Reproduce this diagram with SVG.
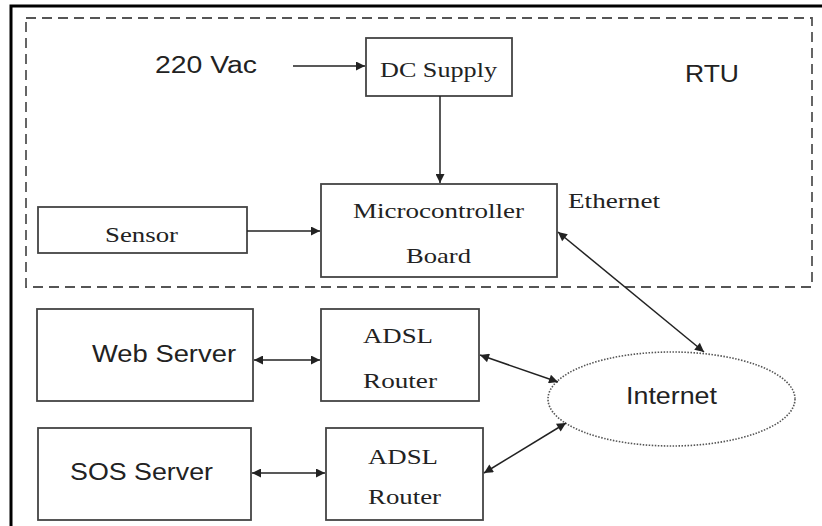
<svg xmlns="http://www.w3.org/2000/svg" width="822" height="526" viewBox="0 0 822 526">
<defs>
<marker id="ah" viewBox="0 0 10 10" refX="10" refY="5" markerWidth="12" markerHeight="9" markerUnits="userSpaceOnUse" orient="auto-start-reverse">
<path d="M0,0 L10,5 L0,10 z" fill="#222"/>
</marker>
<style>
.box{fill:#fff;stroke:#444;stroke-width:1.8}
.serif{font-family:"Liberation Serif","Times New Roman",serif;fill:#222;font-size:22px}
.sans{font-family:"Liberation Sans",Arial,sans-serif;fill:#222;font-size:23px}
.con{stroke:#222;stroke-width:1.5;fill:none}
</style>
</defs>
<rect width="822" height="526" fill="#fff"/>
<path d="M11,526 L11,6 L822,6" fill="none" stroke="#000" stroke-width="3"/>
<g id="rtu">
<rect x="26" y="18" width="786" height="269" fill="none" stroke="#555" stroke-width="1.8" stroke-dasharray="10,6"/>
<text class="sans" x="685" y="82" font-size="22" textLength="54" lengthAdjust="spacingAndGlyphs">RTU</text>
</g>
<g id="vac"><text class="sans" x="155" y="73" font-size="22" textLength="102" lengthAdjust="spacingAndGlyphs">220 Vac</text></g>
<g id="dc"><rect class="box" x="366" y="38" width="146" height="58"/><text class="serif" x="380" y="77" textLength="117" lengthAdjust="spacingAndGlyphs">DC Supply</text></g>
<g id="mcu"><rect class="box" x="321" y="184" width="236" height="93"/><text class="serif" x="353" y="218" textLength="171" lengthAdjust="spacingAndGlyphs">Microcontroller</text><text class="serif" x="406" y="263" textLength="65" lengthAdjust="spacingAndGlyphs">Board</text></g>
<g id="sensor"><rect class="box" x="38" y="207" width="209" height="46"/><text class="serif" x="105" y="242" font-size="24" textLength="73" lengthAdjust="spacingAndGlyphs">Sensor</text></g>
<g id="eth"><text class="serif" x="568" y="208" textLength="92" lengthAdjust="spacingAndGlyphs">Ethernet</text></g>
<g id="web"><rect class="box" x="37" y="309" width="216" height="92"/><text class="sans" x="92" y="362" textLength="144" lengthAdjust="spacingAndGlyphs">Web Server</text></g>
<g id="adsl1"><rect class="box" x="321" y="309" width="158" height="92"/><text class="serif" x="363" y="343" textLength="70" lengthAdjust="spacingAndGlyphs">ADSL</text><text class="serif" x="363" y="388" textLength="74" lengthAdjust="spacingAndGlyphs">Router</text></g>
<g id="sos"><rect class="box" x="38" y="428" width="213" height="92"/><text class="sans" x="70" y="480" textLength="143" lengthAdjust="spacingAndGlyphs">SOS Server</text></g>
<g id="adsl2"><rect class="box" x="326" y="428" width="157" height="92"/><text class="serif" x="368" y="464" textLength="70" lengthAdjust="spacingAndGlyphs">ADSL</text><text class="serif" x="368" y="504" textLength="73" lengthAdjust="spacingAndGlyphs">Router</text></g>
<g id="internet"><ellipse cx="671.5" cy="399" rx="123.5" ry="47" fill="#fff" stroke="#555" stroke-width="1.6" stroke-dasharray="1.5,1.5"/><text class="sans" x="626" y="404" textLength="91" lengthAdjust="spacingAndGlyphs">Internet</text></g>
<g id="connectors">
<line class="con" x1="293" y1="66" x2="365" y2="66" marker-end="url(#ah)"/>
<line class="con" x1="440" y1="96" x2="440" y2="183" marker-end="url(#ah)"/>
<line class="con" x1="247" y1="231" x2="320" y2="231" marker-end="url(#ah)"/>
<line class="con" x1="558" y1="232" x2="704" y2="352" marker-start="url(#ah)" marker-end="url(#ah)"/>
<line class="con" x1="254" y1="360" x2="320" y2="360" marker-start="url(#ah)" marker-end="url(#ah)"/>
<line class="con" x1="252" y1="473" x2="325" y2="473" marker-start="url(#ah)" marker-end="url(#ah)"/>
<line class="con" x1="480" y1="355" x2="558" y2="382" marker-start="url(#ah)" marker-end="url(#ah)"/>
<line class="con" x1="484" y1="473" x2="566" y2="423" marker-start="url(#ah)" marker-end="url(#ah)"/>
</g>
</svg>
